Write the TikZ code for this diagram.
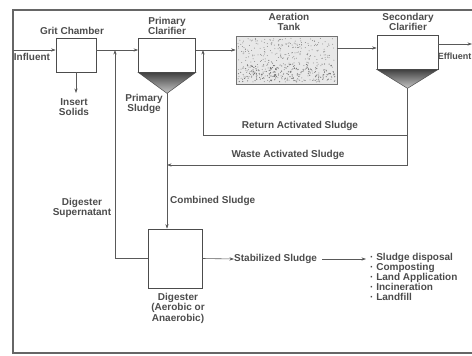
\documentclass[tikz,border=0pt]{standalone}
\usepackage{fontspec}
\setmainfont{Liberation Sans}
\usetikzlibrary{arrows.meta,calc}
\begin{document}
\begin{tikzpicture}[x=1pt,y=-1pt,
  lbl/.style={font=\fontsize{10}{10.5}\selectfont\bfseries, text=black!70, align=center, inner sep=0pt},
  unit/.style={draw=black!70, line width=0.7pt, fill=white, inner sep=0pt},
  flow/.style={draw=black!65, line width=0.6pt},
  arr/.style={flow, -{Stealth[length=4.5pt,width=3.2pt]}},
  hopper/.style={top color=black!75, bottom color=black!22, draw=black!70, line width=0.5pt}
]
\useasboundingbox (0,0) rectangle (472,356);
\draw[black!60, line width=1.3pt] (472,10) -- (13,10) -- (13,353) -- (472,353);

% units
\node[unit, minimum width=40pt, minimum height=34pt] (grit) at (76,55) {};
\node[unit, minimum width=57pt, minimum height=34pt] (pc) at (167,55) {};
\node[unit, minimum width=101pt, minimum height=48pt, fill=black!9, draw=black!55] (at) at (286.5,60) {};
\node[unit, minimum width=61pt, minimum height=34pt] (sc) at (407.5,52) {};
\node[unit, minimum width=54pt, minimum height=59pt] (dig) at (175,258.5) {};

% aeration speckles
\pgfmathsetseed{7}
\foreach \i in {1,...,380}{
  \pgfmathsetmacro\px{238+rnd*97}
  \pgfmathsetmacro\py{38+rnd*44}
  \fill[black!45] (\px,\py) circle (0.5pt);
}
\foreach \i in {1,...,160}{
  \pgfmathsetmacro\px{238+rnd*97}
  \pgfmathsetmacro\py{64+rnd*18}
  \fill[black!55] (\px,\py) circle (0.6pt);
}

% hoppers
\coordinate (pcapex) at ($(pc.south)+(0,21)$);
\coordinate (scapex) at ($(sc.south)+(0,19)$);
\shade[hopper] (pc.south west) -- (pc.south east) -- (pcapex) -- cycle;
\shade[hopper] (sc.south west) -- (sc.south east) -- (scapex) -- cycle;

% helper coordinates
\coordinate (m) at (0,50);
\coordinate (inf) at (13,50);
\coordinate (ins) at (76,93);
\coordinate (eff) at (472,44);
\coordinate (ret) at (203,135);
\coordinate (wasteR) at (407.5,165);
\coordinate (sup) at (115,258.5);
\coordinate (supT) at (115,50);

% main flow
\draw[arr] (inf) -- (grit.west |- m);
\draw[arr] (grit.south) -- (ins);
\draw[arr] (grit.east |- m) -- (pc.west |- m);
\draw[arr] (pc.east |- m) -- (at.west |- m);
\draw[arr] ($(at.east)+(0,-12)$) -- ($(sc.west)+(0,-4)$);
\draw[arr] (sc.east |- eff) -- (eff);

% return and waste activated sludge
\draw[flow] (scapex) -- (wasteR);
\draw[flow] (scapex |- ret) -- (ret);
\draw[arr] (ret) -- (ret |- m);
\draw[arr] (wasteR) -- (wasteR -| pcapex);

% primary / combined sludge
\draw[arr] (pcapex) -- (dig.north -| pcapex);

% supernatant
\draw[flow] (dig.west) -- (sup);
\draw[arr] (sup) -- (supT);

% stabilized sludge
\node[lbl, anchor=west] (stab) at (234,259) {Stabilized Sludge};
\node[lbl, anchor=north west, align=left, font=\fontsize{10}{10}\selectfont\bfseries] (disp) at (370,253) {· Sludge disposal\\· Composting\\· Land Application\\· Incineration\\· Landfill};
\draw[arr] (dig.east) -- (stab.west);
\draw[arr] ($(stab.east)+(5,0)$) -- ($(disp.west |- stab)+(-4,0)$);

% labels
\node[lbl] (lgrit) at (72,31) {Grit Chamber};
\node[lbl] (linf) at (32,57) {Influent};
\node[lbl] (lins) at (74,107) {Insert\\Solids};
\node[lbl] (lpc) at (167,26) {Primary\\Clarifier};
\node[lbl] (lps) at (144,104) {Primary\\Sludge};
\node[lbl] (lat) at (289,22) {Aeration\\Tank};
\node[lbl] (lsc) at (408,22) {Secondary\\Clarifier};
\node[lbl, anchor=east, font=\fontsize{9}{9}\selectfont\bfseries] (leff) at (471.5,56) {Effluent};
\node[lbl] (lras) at (300,126) {Return Activated Sludge};
\node[lbl] (lwas) at (288,155) {Waste Activated Sludge};
\node[lbl, anchor=west] (lcs) at (170,201) {Combined Sludge};
\node[lbl] (lds) at (82,208) {Digester\\Supernatant};
\node[lbl] (ldig) at (178,308) {Digester\\(Aerobic or\\Anaerobic)};
\end{tikzpicture}
\end{document}
